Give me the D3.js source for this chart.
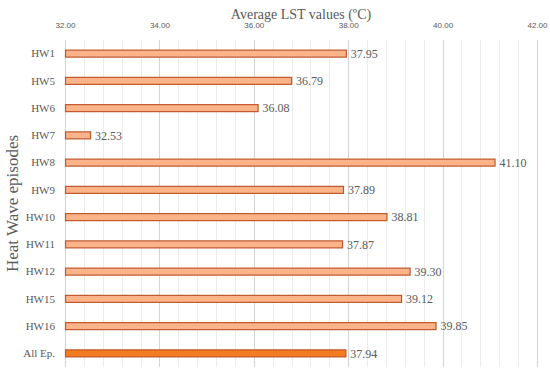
<!DOCTYPE html>
<html>
<head>
<meta charset="utf-8">
<script src="https://cdn.jsdelivr.net/npm/d3@7"></script>
<style>
  body { margin: 0; background: #fff; }
  svg { display: block; }
  .tick-lbl { font-family: "Liberation Sans", sans-serif; font-size: 8px; fill: #595959; }
  .serif { font-family: "Liberation Serif", "DejaVu Serif", serif; fill: #595959; }
</style>
</head>
<body>
<div id="chart"></div>
<script>
var categories = ["HW1", "HW5", "HW6", "HW7", "HW8", "HW9", "HW10", "HW11", "HW12", "HW15", "HW16", "All Ep."];
var values = [37.95, 36.79, 36.08, 32.53, 41.10, 37.89, 38.81, 37.87, 39.30, 39.12, 39.85, 37.94];
var majorTicks = [32, 34, 36, 38, 40, 42];

var width = 550, height = 374;
var margin = {top: 40, right: 13, bottom: 7, left: 65};

var svg = d3.select("#chart").append("svg")
    .attr("width", width)
    .attr("height", height);

var x = d3.scaleLinear()
    .domain([32, 42])
    .range([margin.left, width - margin.right]);

var y = d3.scaleBand()
    .domain(categories)
    .range([margin.top, height - margin.bottom]);

// minor gridlines every 0.4
var minor = d3.range(0, 26).map(function(i) { return 32 + i * 0.4; });
svg.append("g").selectAll("line")
    .data(minor)
    .enter().append("line")
    .attr("x1", function(d) { return Math.round(x(d)) + 0.5; })
    .attr("x2", function(d) { return Math.round(x(d)) + 0.5; })
    .attr("y1", margin.top)
    .attr("y2", height - margin.bottom)
    .attr("stroke", "#ececec")
    .attr("stroke-width", 1);

svg.append("g").selectAll("line")
    .data(majorTicks)
    .enter().append("line")
    .attr("x1", function(d) { return Math.round(x(d)) + 0.5; })
    .attr("x2", function(d) { return Math.round(x(d)) + 0.5; })
    .attr("y1", margin.top)
    .attr("y2", height - margin.bottom)
    .attr("stroke", "#d4d4d4")
    .attr("stroke-width", 1);

// top axis labels
var xAxis = d3.axisTop(x)
    .tickValues(majorTicks)
    .tickSize(0)
    .tickFormat(d3.format(".2f"));

var ax = svg.append("g")
    .attr("transform", "translate(0," + 31 + ")")
    .call(xAxis);
ax.select(".domain").remove();
ax.selectAll("text").attr("class", "tick-lbl").attr("fill", null);

// axis title
svg.append("text")
    .attr("class", "serif")
    .attr("x", (x(32) + x(42)) / 2)
    .attr("y", 19)
    .attr("text-anchor", "middle")
    .style("font-size", "14px")
    .text("Average LST values (ºC)");

svg.append("text")
    .attr("class", "serif")
    .attr("transform", "translate(18," + ((margin.top + height - margin.bottom) / 2) + ") rotate(-90)")
    .attr("text-anchor", "middle")
    .style("font-size", "17px")
    .text("Heat Wave episodes");

// category labels
svg.append("g").selectAll("text")
    .data(categories)
    .enter().append("text")
    .attr("class", "serif")
    .attr("x", 55)
    .attr("y", function(d) { return y(d) + y.bandwidth() / 2; })
    .attr("dy", "0.35em")
    .attr("text-anchor", "end")
    .style("font-size", "11px")
    .text(function(d) { return d; });

// bars
var barH = 7;
svg.append("g").selectAll("rect")
    .data(values)
    .enter().append("rect")
    .attr("x", x(32) + 0.5)
    .attr("y", function(d, i) { return y(categories[i]) + y.bandwidth() / 2 - barH / 2; })
    .attr("width", function(d) { return x(d) - x(32); })
    .attr("height", barH)
    .attr("fill", function(d, i) { return categories[i] === "All Ep." ? "#f57b20" : "#fbb48a"; })
    .attr("stroke", "#c0572a")
    .attr("stroke-width", 1.2);

// value labels
svg.append("g").selectAll("text")
    .data(values)
    .enter().append("text")
    .attr("class", "serif")
    .attr("x", function(d) { return x(d) + 5; })
    .attr("y", function(d, i) { return y(categories[i]) + y.bandwidth() / 2; })
    .attr("dy", "0.35em")
    .style("font-size", "12px")
    .text(function(d) { return d.toFixed(2); });
</script>
</body>
</html>
